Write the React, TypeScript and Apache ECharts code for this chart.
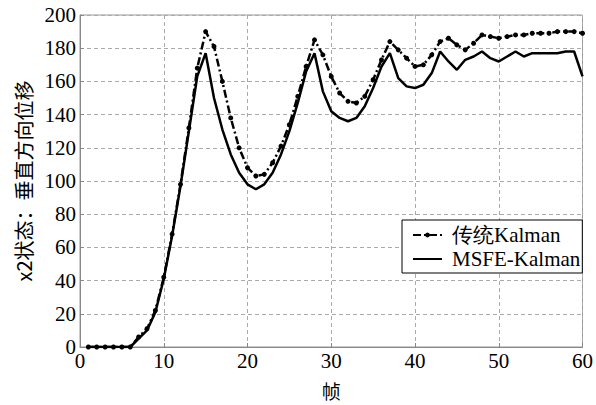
import React, { useEffect, useRef } from "react";
import * as echarts from "echarts";

const traditional = [
  0, 0, 0, 0, 0, 0,
  6, 11, 22, 42, 68, 98, 132, 168,
  190, 181, 160, 138, 120, 108, 103,
  104, 111, 121, 134, 151, 169, 185,
  176, 163, 153, 148, 147, 151, 161,
  173, 184, 179, 174, 169, 170, 176,
  184, 186, 182, 179, 183, 188, 187,
  186, 187, 188, 188, 189, 189, 189,
  190, 190, 190, 189,
];

const msfe = [
  0, 0, 0, 0, 0, 0,
  5, 10, 21, 41, 67, 97, 130, 163,
  177, 150, 131, 116, 105, 98, 95,
  98, 105, 116, 130, 147, 166, 177,
  154, 142, 138, 136, 138, 145, 156,
  169, 177, 162, 157, 156, 158, 165,
  178, 172, 167, 173, 175, 178, 174,
  172, 175, 178, 175, 177, 177, 177,
  177, 178, 178, 163,
];

const seriesNames = ["传统Kalman", "MSFE-Kalman"];
const xAxisName = "帧";
const yAxisName = "x2状态：垂直方向位移";

const serif = "'Liberation Serif', 'Times New Roman', serif";

export default function App() {
  const ref = useRef<HTMLDivElement>(null);
  useEffect(() => {
    document.body.style.margin = "0";
    if (!ref.current) return;
    const chart = echarts.init(ref.current, null, { renderer: "svg" });
    const toPairs = (arr: number[]) => arr.map((v, i) => [i + 1, v]);
    chart.setOption({
      animation: false,
      backgroundColor: "#fff",
      grid: {
        left: 80,
        right: 11,
        top: 15,
        bottom: 58,
        show: true,
        borderColor: "#999",
        borderWidth: 1,
      },
      legend: {
        orient: "vertical",
        left: 402,
        top: 220,
        width: 183,
        backgroundColor: "#fff",
        borderColor: "#000",
        borderWidth: 1,
        borderRadius: 0,
        padding: [4, 2, 3, 10],
        itemGap: 2,
        itemWidth: 29,
        itemHeight: 6,
        textStyle: {
          fontFamily: serif,
          fontSize: 21,
          color: "#000",
          lineHeight: 22,
          padding: [0, 0, 0, 5],
        },
        data: [
          { name: seriesNames[0] },
          { name: seriesNames[1], itemStyle: { opacity: 0 } },
        ],
      },
      xAxis: {
        type: "value",
        min: 0,
        max: 60,
        interval: 10,
        name: xAxisName,
        nameLocation: "middle",
        nameGap: 34,
        nameTextStyle: {
          fontFamily: "'Noto Sans CJK SC'",
          fontSize: 19,
          color: "#000",
        },
        axisLine: { show: true, lineStyle: { color: "#888", width: 1 } },
        axisTick: { show: true, inside: true, length: 4, lineStyle: { color: "#888" } },
        axisLabel: {
          fontFamily: serif,
          fontSize: 21,
          color: "#000",
          margin: 4,
        },
        splitLine: {
          show: true,
          lineStyle: { color: "#aaa", type: [4, 3], width: 1 },
        },
      },
      yAxis: {
        type: "value",
        min: 0,
        max: 200,
        interval: 20,
        name: yAxisName,
        nameLocation: "middle",
        nameGap: 43,
        nameRotate: 90,
        nameTextStyle: {
          fontFamily: "'Noto Sans CJK SC'",
          fontSize: 20,
          color: "#000",
        },
        axisLine: { show: true, lineStyle: { color: "#888", width: 1 } },
        axisTick: { show: true, inside: true, length: 4, lineStyle: { color: "#888" } },
        axisLabel: {
          fontFamily: serif,
          fontSize: 21,
          color: "#000",
          margin: 4,
        },
        splitLine: {
          show: true,
          lineStyle: { color: "#aaa", type: [4, 3], width: 1 },
        },
      },
      series: [
        {
          name: seriesNames[0],
          type: "line",
          data: toPairs(traditional),
          symbol: "circle",
          symbolSize: 5,
          showSymbol: true,
          itemStyle: { color: "#000" },
          lineStyle: { color: "#000", width: 2.5, type: [8, 3, 2, 3] },
          z: 3,
        },
        {
          name: seriesNames[1],
          type: "line",
          data: toPairs(msfe),
          symbol: "none",
          showSymbol: false,
          itemStyle: { color: "#000" },
          lineStyle: { color: "#000", width: 2.5, type: "solid" },
          z: 2,
        },
      ],
    });
    return () => chart.dispose();
  }, []);
  return <div ref={ref} style={{ width: 596, height: 405 }} />;
}
